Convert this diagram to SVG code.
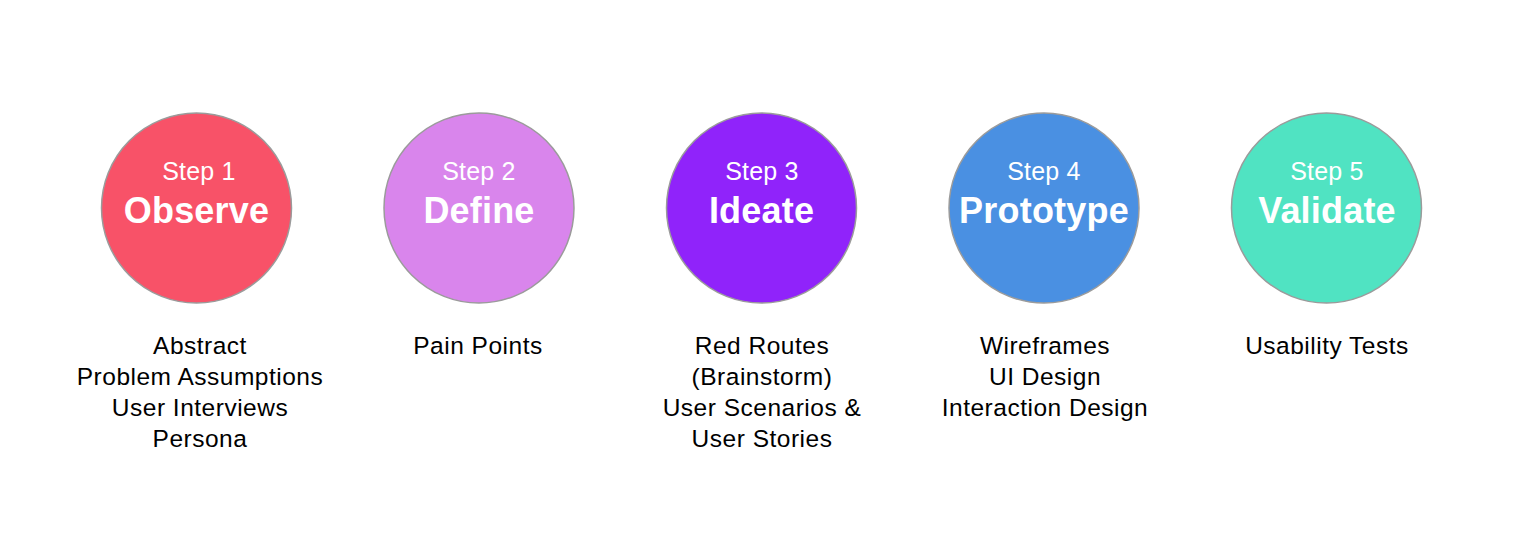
<svg xmlns="http://www.w3.org/2000/svg" width="1532" height="544" viewBox="0 0 1532 544">
  <style>
    .circle { stroke: #9b9b9b; stroke-width: 1.5; }
    .step { font-family: "Liberation Sans", Arial, sans-serif; font-size: 25px; fill: #ffffff; text-anchor: middle; letter-spacing: 0.2px; }
    .title { font-family: "Liberation Sans", Arial, sans-serif; font-size: 36px; font-weight: bold; fill: #ffffff; text-anchor: middle; letter-spacing: 0.2px; }
    .desc { font-family: "Liberation Sans", Arial, sans-serif; font-size: 24.5px; fill: #000000; text-anchor: middle; letter-spacing: 0.5px; }
  </style>
  <rect width="1532" height="544" fill="#ffffff"/>

  <g id="step1">
    <circle class="circle" cx="196.5" cy="208" r="95" fill="#f85268"/>
    <text class="step" x="199" y="180">Step 1</text>
    <text class="title" x="196.5" y="223">Observe</text>
    <text class="desc" x="200" y="354">Abstract</text>
    <text class="desc" x="200" y="385">Problem Assumptions</text>
    <text class="desc" x="200" y="416">User Interviews</text>
    <text class="desc" x="200" y="447">Persona</text>
  </g>

  <g id="step2">
    <circle class="circle" cx="479" cy="208" r="95" fill="#d985ec"/>
    <text class="step" x="479" y="180">Step 2</text>
    <text class="title" x="479" y="223">Define</text>
    <text class="desc" x="478" y="354">Pain Points</text>
  </g>

  <g id="step3">
    <circle class="circle" cx="761.5" cy="208" r="95" fill="#9023fa"/>
    <text class="step" x="762" y="180">Step 3</text>
    <text class="title" x="761.5" y="223">Ideate</text>
    <text class="desc" x="762" y="354">Red Routes</text>
    <text class="desc" x="762" y="385">(Brainstorm)</text>
    <text class="desc" x="762" y="416">User Scenarios &amp;</text>
    <text class="desc" x="762" y="447">User Stories</text>
  </g>

  <g id="step4">
    <circle class="circle" cx="1044" cy="208" r="95" fill="#4a90e2"/>
    <text class="step" x="1044" y="180">Step 4</text>
    <text class="title" x="1044" y="223">Prototype</text>
    <text class="desc" x="1045" y="354">Wireframes</text>
    <text class="desc" x="1045" y="385">UI Design</text>
    <text class="desc" x="1045" y="416">Interaction Design</text>
  </g>

  <g id="step5">
    <circle class="circle" cx="1326.5" cy="208" r="95" fill="#50e3c2"/>
    <text class="step" x="1327" y="180">Step 5</text>
    <text class="title" x="1327" y="223">Validate</text>
    <text class="desc" x="1327" y="354">Usability Tests</text>
  </g>

  <g id="connectors"></g>
</svg>
